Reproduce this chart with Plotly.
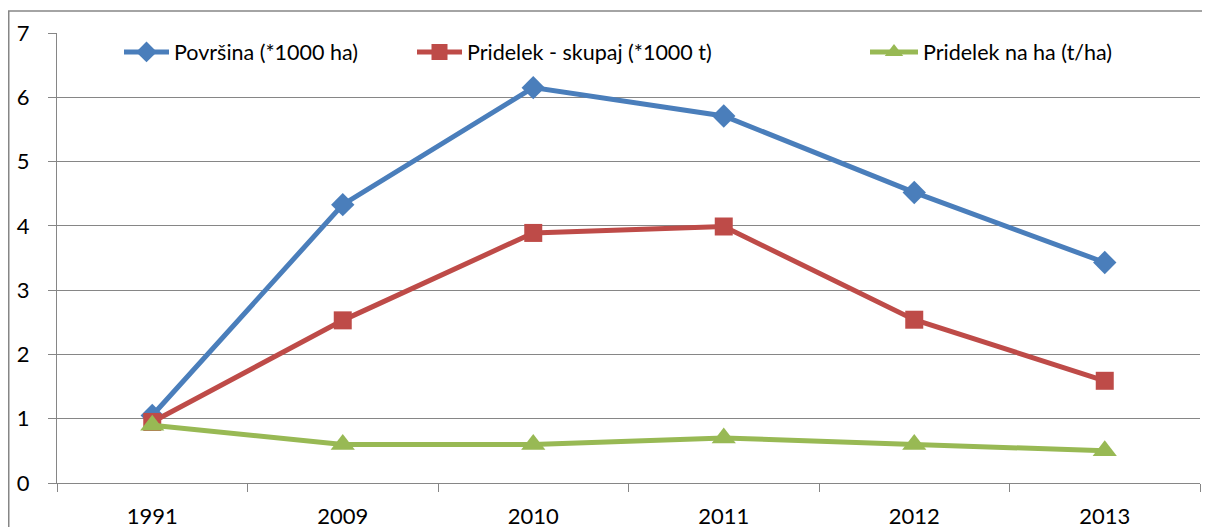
import plotly.graph_objects as go

years = ["1991", "2009", "2010", "2011", "2012", "2013"]
povrsina = [1.05, 4.33, 6.15, 5.71, 4.52, 3.43]
pridelek_skupaj = [0.95, 2.53, 3.89, 3.99, 2.54, 1.59]
pridelek_na_ha = [0.9, 0.6, 0.6, 0.7, 0.6, 0.5]
y_ticks = [0, 1, 2, 3, 4, 5, 6, 7]

names = ["Površina (*1000 ha)", "Pridelek - skupaj (*1000 t)", "Pridelek na ha (t/ha)"]
colors = ["#4A7EBB", "#BE4B48", "#98B954"]
symbols = ["diamond", "square", "triangle-up"]
sizes = [18, 18, 21]
legend_ids = ["legend", "legend2", "legend3"]

# page is offset by the 8px default body margin
W, H = 1202, 519
L, T = 49, 25
plot_right, plot_bottom = 1192, 475.5
R, B = W - plot_right, H - plot_bottom
pw = plot_right - L
ph = plot_bottom - T

fig = go.Figure()
for name, vals, c, s, sz, lg in zip(names, [povrsina, pridelek_skupaj, pridelek_na_ha],
                                     colors, symbols, sizes, legend_ids):
    fig.add_trace(go.Scatter(
        x=years, y=vals, name=name, mode="lines+markers",
        line=dict(color=c, width=5),
        marker=dict(symbol=s, size=sz, color=c),
        legend=lg,
    ))

legend_starts = [111, 404, 857]
legend_itemwidths = [45, 45, 48]
leg_y = (plot_bottom - 44) / ph
legend_common = dict(orientation="h", xanchor="left", yanchor="middle",
                     bgcolor="rgba(0,0,0,0)", font=dict(size=21.5))
legends = {}
for lg, xs, iw in zip(legend_ids, legend_starts, legend_itemwidths):
    legends[lg] = dict(legend_common, x=(xs - L) / pw, y=leg_y, itemwidth=iw)

fig.update_layout(
    width=W, height=H,
    margin=dict(l=L, r=R, t=T, b=B, autoexpand=False),
    paper_bgcolor="white", plot_bgcolor="white",
    font=dict(family="Lato, Open Sans, sans-serif", size=21.5, color="black"),
    showlegend=True,
    xaxis=dict(
        type="category", tickson="boundaries",
        ticks="outside", ticklen=8, tickcolor="#868686", tickwidth=1,
        showline=True, linecolor="#868686", linewidth=1,
        showgrid=False, zeroline=False, automargin=False,
        ticklabelstandoff=14, tickfont=dict(size=22),
        range=[-0.5, 5.5],
    ),
    yaxis=dict(
        range=[0, 7], tickvals=y_ticks,
        ticks="outside", ticklen=8, tickcolor="#868686", tickwidth=1,
        showline=True, linecolor="#868686", linewidth=1,
        showgrid=True, gridcolor="#868686", gridwidth=1,
        zeroline=False, automargin=False, ticklabelstandoff=14,
        tickfont=dict(size=22),
    ),
    shapes=[dict(
        type="rect", xref="paper", yref="paper",
        x0=(0.75 - L) / pw, x1=(W + 20 - L) / pw,
        y0=-(B + 20) / ph, y1=1 + (T - 3) / ph,
        line=dict(color="#868686", width=1.5), fillcolor="rgba(0,0,0,0)",
        layer="below",
    )],
    **legends,
)

fig.write_html("out.html")
